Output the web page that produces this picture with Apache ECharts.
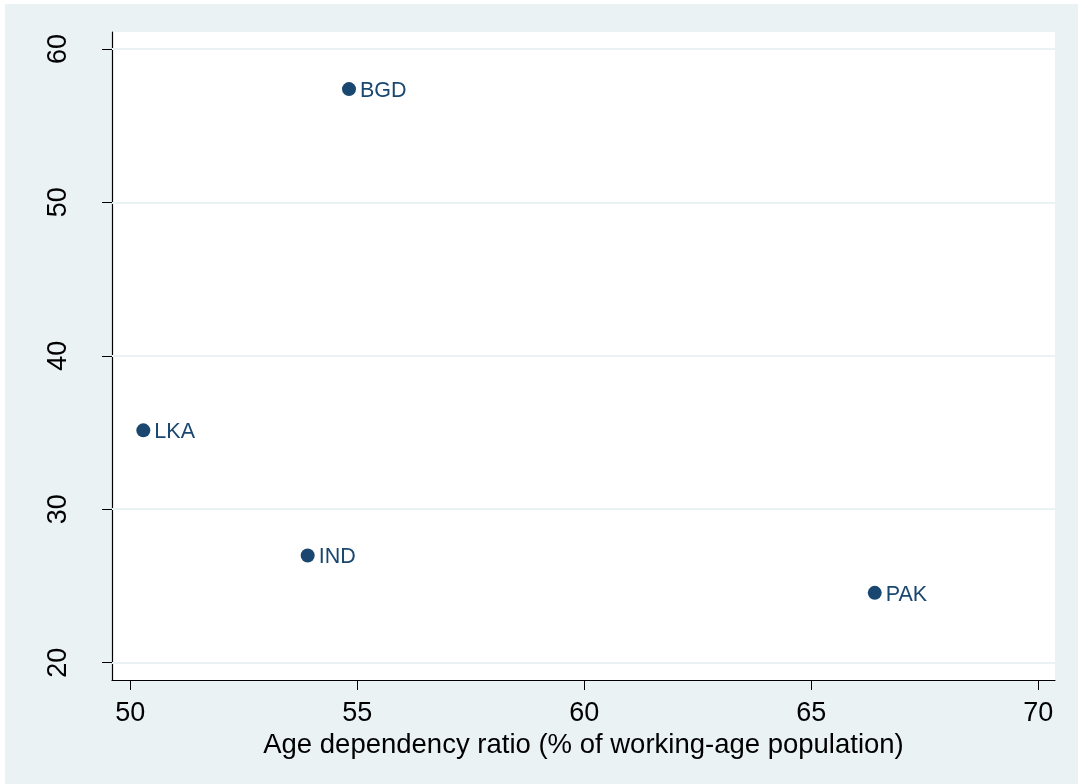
<!DOCTYPE html>
<html>
<head>
<meta charset="utf-8">
<script src="https://cdn.jsdelivr.net/npm/echarts@6/dist/echarts.min.js"></script>
<style>
  html, body { margin: 0; padding: 0; background: #ffffff; }
  #chart { width: 1078px; height: 784px; }
</style>
</head>
<body>
<div id="chart"></div>
<script>
// Country codes and their coordinates (x: age dependency ratio, y: vertical measure)
const countries = ['BGD', 'LKA', 'IND', 'PAK'];
const dependencyRatio = [54.82, 50.29, 53.91, 66.40];
const yValues = [57.38, 35.14, 26.98, 24.55];

// Axis tick labels
const xTicks = [50, 55, 60, 65, 70];
const yTicks = [20, 30, 40, 50, 60];

const xTitle = 'Age dependency ratio (% of working-age population)';

const navy = '#1a476f';
const panelBg = '#eaf2f3';
const font = '"Liberation Sans", Arial, sans-serif';

const points = countries.map((c, i) => ({ name: c, value: [dependencyRatio[i], yValues[i]] }));

const chart = echarts.init(document.getElementById('chart'), null, { renderer: 'canvas' });

chart.setOption({
  backgroundColor: '#ffffff',
  animation: false,
  graphic: [{
    type: 'rect',
    z: -10,
    silent: true,
    shape: { x: 5, y: 4, width: 1073, height: 780 },
    style: { fill: panelBg }
  }],
  grid: {
    left: 112, right: 23, top: 32, bottom: 104,
    show: true, backgroundColor: '#ffffff', borderWidth: 0
  },
  xAxis: {
    type: 'value',
    min: 49.6, max: 70.37,
    name: xTitle,
    nameLocation: 'middle',
    nameGap: 50,
    nameTextStyle: { fontFamily: font, fontSize: 27.5, color: '#000' },
    axisLine: { show: true, onZero: false, lineStyle: { color: '#000', width: 1.2 } },
    axisTick: { show: true, length: 10, customValues: xTicks, lineStyle: { color: '#000', width: 1 } },
    axisLabel: { customValues: xTicks, fontFamily: font, fontSize: 27, color: '#000', margin: 20 },
    splitLine: { show: false }
  },
  yAxis: {
    type: 'value',
    min: 18.87, max: 61.1,
    axisLine: { show: true, onZero: false, lineStyle: { color: '#000', width: 1.2 } },
    axisTick: { show: true, length: 10, customValues: yTicks, lineStyle: { color: '#000', width: 1 } },
    axisLabel: { customValues: yTicks, rotate: 90, fontFamily: font, fontSize: 27, color: '#000', margin: 40 },
    splitLine: { show: false }
  },
  series: [{
    type: 'scatter',
    data: points,
    symbol: 'circle',
    symbolSize: 14,
    itemStyle: { color: navy, opacity: 1 },
    label: {
      show: true,
      position: 'right',
      distance: 4,
      offset: [0, 2],
      formatter: p => p.name,
      fontFamily: font,
      fontSize: 21.5,
      color: navy
    },
    markLine: {
      silent: true,
      symbol: 'none',
      label: { show: false },
      z: 1,
      lineStyle: { color: panelBg, width: 2, type: 'solid', opacity: 1 },
      data: yTicks.map(v => ({ yAxis: v }))
    }
  }]
});
</script>
</body>
</html>
